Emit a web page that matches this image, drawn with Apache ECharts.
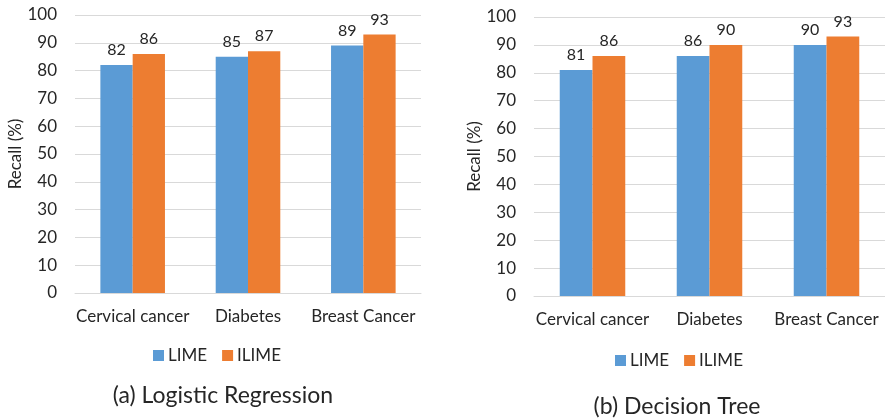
<!DOCTYPE html>
<html>
<head>
<meta charset="utf-8">
<script src="https://cdn.jsdelivr.net/npm/echarts@6/dist/echarts.min.js"></script>
<style>
  html, body { margin: 0; padding: 0; background: #fff; }
  #chart { width: 885px; height: 419px; }
</style>
</head>
<body>
<div id="chart"></div>
<script>
// Recall (%) of LIME vs ILIME for two classifiers
const categories = ['Cervical cancer', 'Diabetes', 'Breast Cancer'];
const yTicks = [0, 100, 10]; // min, max, step
const lrLime = [82, 85, 89];
const lrIlime = [86, 87, 93];
const dtLime = [81, 86, 90];
const dtIlime = [86, 90, 93];
const seriesNames = ['LIME', 'ILIME'];
const panelTitles = ['(a) Logistic Regression', '(b) Decision Tree'];

const FONT = 'Lato, "Open Sans", sans-serif';
const TEXT = '#262626';
const BLUE = '#5B9BD5';
const ORANGE = '#ED7D31';

const chart = echarts.init(document.getElementById('chart'), null, { renderer: 'canvas' });

function xAxis(gridIndex) {
  return {
    type: 'category', gridIndex, data: categories,
    axisLine: { show: true, lineStyle: { color: '#D9D9D9', width: 1 } },
    axisTick: { show: false },
    axisLabel: { interval: 0, color: TEXT, fontFamily: FONT, fontSize: 17, margin: 15 }
  };
}
function yAxis(gridIndex) {
  return {
    type: 'value', gridIndex, min: yTicks[0], max: yTicks[1], interval: yTicks[2],
    name: 'Recall (%)', nameLocation: 'middle', nameGap: 51, nameRotate: 90,
    nameTextStyle: { color: TEXT, fontFamily: FONT, fontSize: 17 },
    axisLine: { show: false }, axisTick: { show: false },
    axisLabel: { color: TEXT, fontFamily: FONT, fontSize: 17, margin: 18 },
    splitLine: { lineStyle: { color: '#D9D9D9', width: 1 } }
  };
}
function bar(name, data, color, idx) {
  return {
    type: 'bar', name, data, xAxisIndex: idx, yAxisIndex: idx,
    barGap: '0%', barCategoryGap: '44%',
    itemStyle: { color },
    label: { show: true, position: 'top', distance: 7, color: TEXT, fontFamily: FONT, fontSize: 16 }
  };
}
function legend(left, top) {
  return {
    data: seriesNames, left, top, icon: 'rect',
    itemWidth: 11, itemHeight: 11, itemGap: 15,
    textStyle: { color: TEXT, fontFamily: FONT, fontSize: 17, padding: [0, 0, 0, -1] }
  };
}

chart.setOption({
  animation: false,
  backgroundColor: '#fff',
  grid: [
    { left: 75, top: 15, width: 346, height: 278 },
    { left: 534, top: 17, width: 351, height: 279 }
  ],
  xAxis: [xAxis(0), xAxis(1)],
  yAxis: [yAxis(0), yAxis(1)],
  legend: [legend(148, 342), legend(610, 347)],
  series: [
    bar(seriesNames[0], lrLime, BLUE, 0),
    bar(seriesNames[1], lrIlime, ORANGE, 0),
    bar(seriesNames[0], dtLime, BLUE, 1),
    bar(seriesNames[1], dtIlime, ORANGE, 1)
  ],
  title: [
    { text: panelTitles[0], left: 218, top: 379, textAlign: 'center',
      textStyle: { color: TEXT, fontFamily: FONT, fontSize: 23, fontWeight: 'normal' } },
    { text: panelTitles[1], left: 672, top: 390, textAlign: 'center',
      textStyle: { color: TEXT, fontFamily: FONT, fontSize: 23, fontWeight: 'normal' } }
  ]
});
</script>
</body>
</html>
